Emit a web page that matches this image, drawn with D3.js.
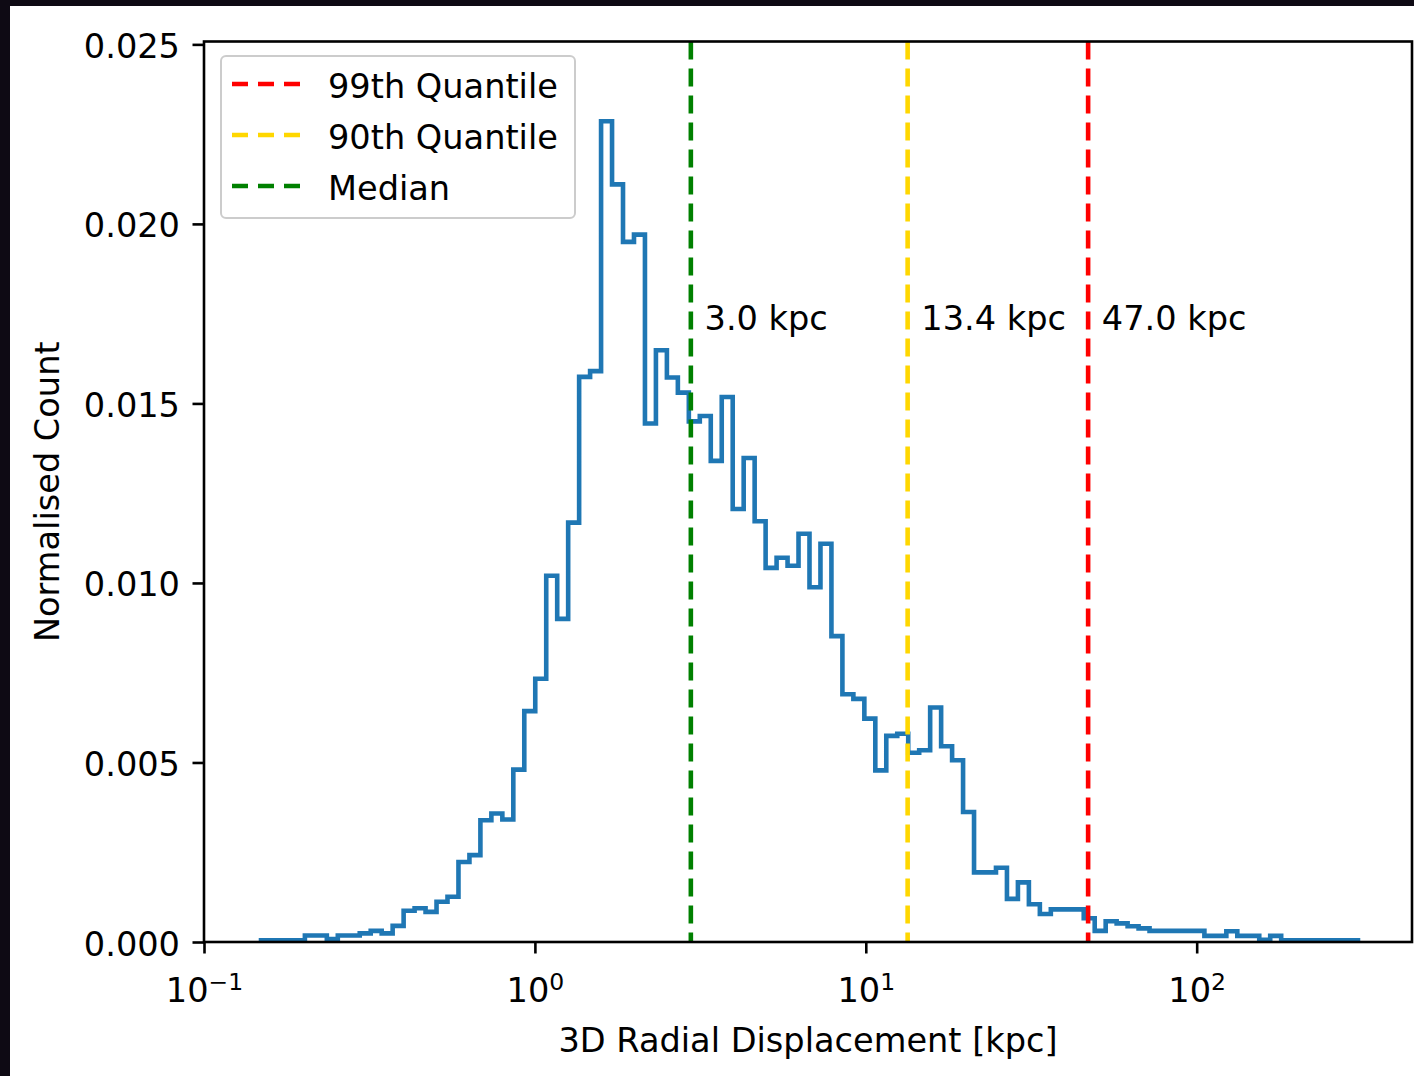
<!DOCTYPE html>
<html>
<head>
<meta charset="utf-8">
<script src="https://cdn.jsdelivr.net/npm/d3@7"></script>
<style>
body { margin: 0; background: #0e0a14; }
svg { display: block; }
text { font-family: "DejaVu Sans", sans-serif; fill: #000; }
</style>
</head>
<body>
<div id="chart"></div>
<script>
// outer edges of the 100 log-spaced bins (kpc)
const binLow = 0.1487
const binHigh = 307.2
const counts = [
  0.00005, 0.00005, 0.00005, 0.00005, 0.00018, 0.00018, 0.00008, 0.00018, 0.00018, 0.00024,
  0.00031, 0.00024, 0.00045, 0.00087, 0.00094, 0.00084, 0.00112, 0.00126, 0.00223, 0.00242,
  0.00339, 0.00358, 0.00341, 0.0048, 0.00643, 0.00733, 0.0102, 0.0090, 0.01168, 0.01574,
  0.0159, 0.02286, 0.0211, 0.0195, 0.0197, 0.01444, 0.01648, 0.01572, 0.0153, 0.0145,
  0.01465, 0.0134, 0.01518, 0.01206, 0.01348, 0.01172, 0.01042, 0.0107, 0.01048, 0.01137,
  0.00988, 0.01109, 0.00852, 0.0069, 0.00677, 0.00622, 0.00478, 0.00574, 0.0058, 0.00527,
  0.00534, 0.00653, 0.00545, 0.00506, 0.00362, 0.00194, 0.00194, 0.00207, 0.0012, 0.00166,
  0.00105, 0.00078, 0.00091, 0.00091, 0.00091, 0.00066, 0.00031, 0.00058, 0.00052, 0.00044,
  0.00038, 0.00031, 0.00031, 0.00031, 0.00031, 0.00031, 0.00017, 0.00017, 0.0003, 0.00017,
  0.00017, 0.00006, 0.00017, 0.00005, 0.00005, 0.00005, 0.00005, 0.00005, 0.00005, 0.00005
]
const quantileNames = ["99th Quantile", "90th Quantile", "Median"]
const quantileValues = [46.98, 13.38, 2.96]
const quantileColors = ["#ff0000", "#ffd700", "#008000"]
const xTicks = [0.1, 1, 10, 100]
const xTickExp = ["\u22121", "0", "1", "2"]
const yTicks = [0, 0.005, 0.010, 0.015, 0.020, 0.025]

const W = 1414, H = 1076
const plotL = 204, plotR = 1412, plotT = 41.5, plotB = 942
const fs = 33.6

const svg = d3.select("#chart").append("svg")
  .attr("width", W)
  .attr("height", H)

svg.append("rect").attr("width", W).attr("height", H).attr("fill", "#0e0a14")
svg.append("rect").attr("x", 10).attr("y", 6).attr("width", W - 10).attr("height", H - 6).attr("fill", "#fff")

var x = d3.scaleLog().domain([0.1, 447.4]).range([plotL, plotR])
var y = d3.scaleLinear().domain([0, 0.02508]).range([plotB, plotT])

// histogram (step outline)
var edges = d3.range(counts.length + 1).map(function(i) {
  return binLow * Math.pow(binHigh / binLow, i / counts.length)
})
var pts = [[edges[0], 0]]
counts.forEach(function(c, i) {
  pts.push([edges[i], c])
  pts.push([edges[i + 1], c])
})
pts.push([edges[counts.length], 0])

svg.append("path")
  .attr("d", d3.line().x(function(d) { return x(d[0]) }).y(function(d) { return y(d[1]) })(pts))
  .attr("fill", "none")
  .attr("stroke", "#1f77b4")
  .attr("stroke-width", 4.6)
  .attr("stroke-linejoin", "miter")

// quantile lines and labels
quantileValues.forEach(function(q, i) {
  svg.append("line")
    .attr("x1", x(q)).attr("x2", x(q))
    .attr("y1", plotT).attr("y2", plotB)
    .attr("stroke", quantileColors[i])
    .attr("stroke-width", 4.6)
    .attr("stroke-dasharray", "18,9")
  svg.append("text")
    .attr("x", x(q * 1.1))
    .attr("y", y(0.01705))
    .style("font-size", fs + "px")
    .text(q.toFixed(1) + " kpc")
})

// x axis
var gx = svg.append("g")
  .attr("transform", "translate(0," + plotB + ")")
  .call(d3.axisBottom(x).tickValues(xTicks).tickSize(11.5).tickSizeOuter(0).tickFormat(""))
gx.select(".domain").remove()
gx.selectAll(".tick line").attr("stroke", "#000").attr("stroke-width", 2.6)
gx.selectAll(".tick text").each(function(d, i) {
  var t = d3.select(this).attr("y", 60).attr("dy", 0).attr("fill", "#000")
    .style("font-size", fs + "px").style("font-family", "DejaVu Sans")
  t.append("tspan").text("10")
  t.append("tspan").attr("dy", -12).style("font-size", "23.5px").text(xTickExp[i])
})

// y axis
var gy = svg.append("g")
  .attr("transform", "translate(" + plotL + ",0)")
  .call(d3.axisLeft(y).tickValues(yTicks).tickSize(11.5).tickSizeOuter(0).tickPadding(12.5)
    .tickFormat(d3.format(".3f")))
gy.select(".domain").remove()
gy.selectAll(".tick line").attr("stroke", "#000").attr("stroke-width", 2.6)
gy.selectAll(".tick text")
  .attr("dy", 13)
  .attr("fill", "#000")
  .style("font-size", fs + "px")
  .style("font-family", "DejaVu Sans")

// frame
svg.append("rect")
  .attr("x", plotL).attr("y", plotT)
  .attr("width", plotR - plotL).attr("height", plotB - plotT)
  .attr("fill", "none")
  .attr("stroke", "#000")
  .attr("stroke-width", 2.6)

// axis labels
svg.append("text")
  .attr("x", (plotL + plotR) / 2)
  .attr("y", 1052)
  .attr("text-anchor", "middle")
  .style("font-size", fs + "px")
  .text("3D Radial Displacement [kpc]")

svg.append("text")
  .attr("transform", "rotate(-90)")
  .attr("x", -(plotT + plotB) / 2)
  .attr("y", 59)
  .attr("text-anchor", "middle")
  .style("font-size", fs + "px")
  .text("Normalised Count")

// legend
var legend = svg.append("g")
legend.append("rect")
  .attr("x", 221).attr("y", 56)
  .attr("width", 354).attr("height", 162)
  .attr("rx", 5)
  .attr("fill", "#fff")
  .attr("fill-opacity", 0.8)
  .attr("stroke", "#cccccc")
  .attr("stroke-width", 2)

quantileNames.forEach(function(name, i) {
  var ly = 84 + i * 51
  legend.append("line")
    .attr("x1", 232).attr("x2", 300)
    .attr("y1", ly).attr("y2", ly)
    .attr("stroke", quantileColors[i])
    .attr("stroke-width", 4.6)
    .attr("stroke-dasharray", "16,10")
  legend.append("text")
    .attr("x", 328)
    .attr("y", ly + 13.5)
    .style("font-size", fs + "px")
    .text(name)
})
</script>
</body>
</html>
